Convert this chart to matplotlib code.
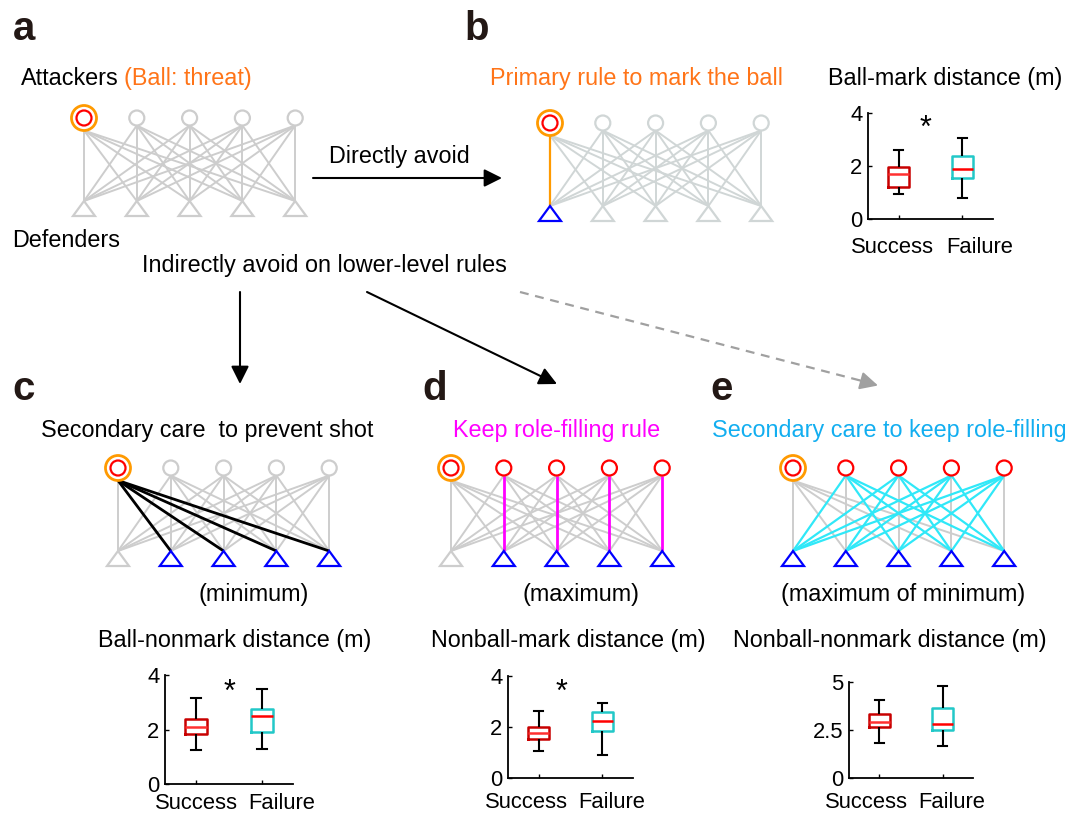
import matplotlib
matplotlib.use('Agg')
import matplotlib.pyplot as plt
from matplotlib.patches import Circle, Polygon

plt.rcParams['font.family'] = ['Liberation Sans', 'DejaVu Sans']

W, H = 1084, 813

# ----------------------------------------------------------------------
# Box statistics (m): [success, failure]
# ----------------------------------------------------------------------
groups = ['Success', 'Failure']

b_med = [1.69, 1.90]
b_q1 = [1.22, 1.54]
b_q3 = [1.97, 2.39]
b_lo = [0.95, 0.79]
b_hi = [2.60, 3.04]

c_med = [2.10, 2.50]
c_q1 = [1.83, 1.92]
c_q3 = [2.39, 2.74]
c_lo = [1.25, 1.27]
c_hi = [3.17, 3.47]

d_med = [1.78, 2.25]
d_q1 = [1.52, 1.86]
d_q3 = [1.99, 2.60]
d_lo = [1.04, 0.91]
d_hi = [2.64, 2.95]

e_med = [2.90, 2.81]
e_q1 = [2.64, 2.50]
e_q3 = [3.33, 3.65]
e_lo = [1.81, 1.67]
e_hi = [4.05, 4.79]

GRAY = '#cdcdcd'
ORANGE_TXT = '#ff7418'
ORANGE = '#ff9a00'
RED = '#ff0000'
BLUE = '#0000ff'
MAGENTA = '#ff00ff'
CYAN = '#30e8f8'
SKY = '#12aef0'

FS = 16.8
TFS = 15.8

fig = plt.figure(figsize=(W / 100, H / 100), dpi=100)
cv = fig.add_axes([0, 0, 1, 1])
cv.set_xlim(0, W)
cv.set_ylim(H, 0)
cv.axis('off')


# ======================================================================
# Network diagram: 5 attackers (circles) over 5 defenders (triangles).
# ======================================================================

def network(x0, yc, att_col, def_col, colored=(), gray_col=GRAY, dx=52.8):
    r, rr = 7.5, 12.5
    apex = yc + 83
    xs = [x0 + k * dx for k in range(5)]
    hl = {(i, j) for i, j, c, w in colored}
    for i in range(5):
        y0 = yc + (rr if i == 0 else r)
        for j in range(5):
            if (i, j) in hl:
                continue
            cv.plot([xs[i], xs[j]], [y0, apex], color=gray_col, lw=1.4,
                    solid_capstyle='butt', zorder=1)
    for i, j, c, w in colored:
        y0 = yc + (rr if i == 0 else r)
        cv.plot([xs[i], xs[j]], [y0, apex], color=c, lw=w,
                solid_capstyle='butt', zorder=2)
    # attackers
    cv.add_patch(Circle((xs[0], yc), rr, fc='white', ec=ORANGE, lw=2.0, zorder=3))
    cv.add_patch(Circle((xs[0], yc), r, fc='white', ec=RED, lw=1.6, zorder=4))
    for i in range(1, 5):
        cv.add_patch(Circle((xs[i], yc), r, fc='white', ec=att_col[i - 1],
                            lw=1.6, zorder=3))
    # defenders
    for j in range(5):
        tri = [(xs[j], apex), (xs[j] - 11, apex + 15), (xs[j] + 11, apex + 15)]
        cv.add_patch(Polygon(tri, closed=True, fc='white', ec=def_col[j],
                             lw=1.6, zorder=3))


network(84, 118, [GRAY] * 4, [GRAY] * 5)
network(550, 123, ['#d0d6d6'] * 4, [BLUE] + ['#d0d6d6'] * 4,
        colored=[(0, 0, ORANGE, 1.6)], gray_col='#d0d6d6')
network(118, 468, [GRAY] * 4, [GRAY] + [BLUE] * 4,
        colored=[(0, j, 'black', 2.0) for j in range(1, 5)])
network(451, 468, [RED] * 4, [GRAY] + [BLUE] * 4,
        colored=[(i, i, MAGENTA, 2.0) for i in range(1, 5)])
network(793, 468, [RED] * 4, [BLUE] * 5,
        colored=[(i, j, CYAN, 1.6) for i in range(1, 5) for j in range(5)
                 if j != i])

# ======================================================================
# Arrows.
# ======================================================================

def arrow(x0, y0, x1, y1, color='black'):
    cv.annotate('', xy=(x1, y1), xytext=(x0, y0),
                arrowprops=dict(arrowstyle='-|>,head_length=0.4,head_width=0.2',
                                color=color, lw=1.5, mutation_scale=27,
                                shrinkA=0, shrinkB=0))


arrow(313, 178, 502, 178)
arrow(240, 292, 240, 384)
arrow(367, 292, 557, 384)
# dashed arrow: line then solid head
cv.plot([520, 866], [292, 382], color='#a0a0a0', lw=1.6, ls=(0, (4, 3)))
arrow(860, 380.5, 878, 385.5, color='#a0a0a0')

# ======================================================================
# Labels.
# ======================================================================

def label(x, y, s, color='black', size=FS, ha='center', **kw):
    cv.text(x, y, s, color=color, fontsize=size, ha=ha, va='baseline', **kw)


for x, y, s in [(13, 40, 'a'), (464, 40, 'b'), (12, 400, 'c'),
                (422, 400, 'd'), (710, 400, 'e')]:
    label(x, y, s, size=29, ha='left', fontweight='bold', color='#231815')

label(21, 85, 'Attackers', ha='left')
label(124, 85, '(Ball: threat)', color=ORANGE_TXT, ha='left')
label(12, 247, 'Defenders', ha='left')
label(399.5, 163, 'Directly avoid')
label(324, 272, 'Indirectly avoid on lower-level rules')
label(636, 85, 'Primary rule to mark the ball', color=ORANGE_TXT)
label(945.5, 85, 'Ball-mark distance (m)')
label(207.5, 437, 'Secondary care  to prevent shot')
label(556.5, 437, 'Keep role-filling rule', color=MAGENTA)
label(889.5, 437, 'Secondary care to keep role-filling', color=SKY)
label(253.5, 601, '(minimum)')
label(581, 601, '(maximum)')
label(903, 601, '(maximum of minimum)')
label(235, 647, 'Ball-nonmark distance (m)')
label(568, 647, 'Nonball-mark distance (m)')
label(890, 647, 'Nonball-nonmark distance (m)')

# ======================================================================
# Box plots.
# ======================================================================

def boxplot(px, med, q1, q3, lo, hi, yticks, yticklabels, xlab, star=None):
    l, r, t, b = px
    ax = fig.add_axes([l / W, 1 - b / H, (r - l) / W, (b - t) / H])
    stats = [dict(med=med[k], q1=q1[k], q3=q3[k], whislo=lo[k], whishi=hi[k])
             for k in range(2)]
    out = ax.bxp(stats, positions=[1, 2], widths=0.34, showfliers=False,
                 capwidths=0.15,
                 whiskerprops=dict(color='black', lw=1.5, solid_capstyle='butt'),
                 capprops=dict(color='black', lw=1.5))
    for k, (ec, mc) in enumerate([('#c80000', '#ff3030'), ('#22c8c8', RED)]):
        out['boxes'][k].set(color=ec, lw=1.8)
        out['medians'][k].set(color=mc, lw=1.8)
    ax.set_xlim(0.52, 2.48)
    ax.set_ylim(yticks[0], yticks[-1])
    ax.set_xticks([1, 2])
    ax.set_xticklabels([])
    ax.set_yticks(yticks)
    ax.set_yticklabels(yticklabels)
    ax.tick_params(direction='in', length=3, width=1.0, labelsize=TFS)
    ax.tick_params(axis='y', pad=4)
    for s in ['top', 'right']:
        ax.spines[s].set_visible(False)
    for s in ['left', 'bottom']:
        ax.spines[s].set_linewidth(1.3)
    ax.patch.set_alpha(0)
    # category names sit a little apart from their ticks
    for x, s in zip(xlab[:2], groups):
        cv.text(x, xlab[2], s, fontsize=TFS, ha='left', va='baseline')
    if star is not None:
        ax.text(star[0], star[1], '*', fontsize=22, ha='center', va='center')
    return ax


boxplot((868, 993, 113, 219), b_med, b_q1, b_q3, b_lo, b_hi,
        [0, 2, 4], ['0', '2', '4'], (851, 946, 253), star=(1.42, 3.4))
boxplot((165, 293, 675, 784), c_med, c_q1, c_q3, c_lo, c_hi,
        [0, 2, 4], ['0', '2', '4'], (155, 248, 809), star=(1.5, 3.35))
boxplot((508, 633, 676, 778), d_med, d_q1, d_q3, d_lo, d_hi,
        [0, 2, 4], ['0', '2', '4'], (485, 578, 808), star=(1.36, 3.35))
boxplot((849, 973, 682, 778), e_med, e_q1, e_q3, e_lo, e_hi,
        [0, 2.5, 5], ['0', '2.5', '5'], (825, 918, 808))

fig.savefig('out.png', dpi=100)
